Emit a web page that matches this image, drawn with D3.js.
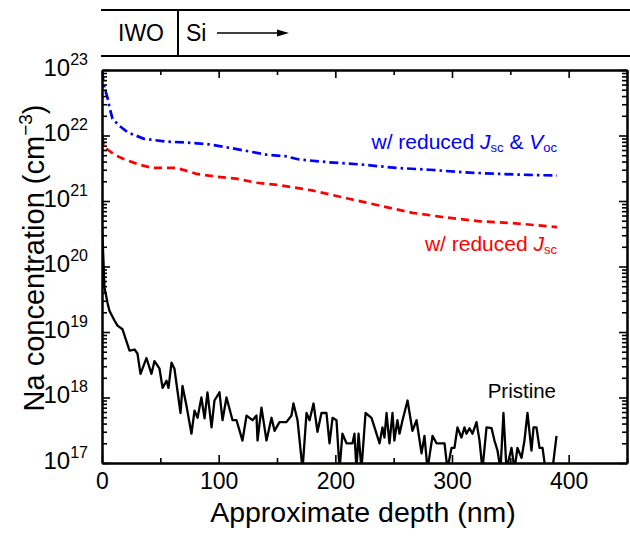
<!DOCTYPE html>
<html>
<head>
<meta charset="utf-8">
<script src="https://cdn.jsdelivr.net/npm/d3@7"></script>
<style>
  body { margin: 0; background: #fff; }
  svg { display: block; font-family: "Liberation Sans", Arial, Helvetica, sans-serif; }
</style>
</head>
<body>
<svg id="chart" width="630" height="538"></svg>
<script>
// Axis ticks
const xMajorTicks = [0, 100, 200, 300, 400];
const xMinorTicks = [50, 150, 250, 350, 450];
const yDecades = [17, 18, 19, 20, 21, 22, 23];

// Na depth profiles (depth in nm, concentration in cm^-3)
const depthVoc = [0, 2, 4.7, 6.4, 9, 15, 22, 36, 54, 72, 90, 107, 122, 141, 158, 169, 195, 223, 252, 281, 309, 338, 366, 390];
const naVoc = [9.3e22, 5.4e22, 3.8e22, 2.7e22, 1.8e22, 1.4e22, 1.12e22, 8.9e21, 8.1e21, 7.8e21, 7.4e21, 6.6e21, 5.9e21, 5.1e21, 4.8e21, 4.3e21, 3.9e21, 3.6e21, 3.2e21, 3.0e21, 2.75e21, 2.6e21, 2.5e21, 2.45e21];

const depthJsc = [0, 2, 6.4, 12.4, 21, 32, 43, 55, 64, 81, 98, 115, 132, 152, 180, 210, 238, 266, 295, 324, 352, 390];
const naJsc = [9.5e21, 6.6e21, 5.8e21, 4.9e21, 4.2e21, 3.6e21, 3.2e21, 3.2e21, 3.2e21, 2.6e21, 2.35e21, 2.2e21, 1.9e21, 1.75e21, 1.45e21, 1.1e21, 8.5e20, 6.6e20, 5.6e20, 4.9e20, 4.6e20, 4.0e20];

const depthPristine = [0, 1.2, 2.1, 4.7, 6.4, 10.7, 13.3, 17.6, 23.6, 27.9, 30.4, 33, 38.1, 42.4, 45, 49.3, 51.9, 55.3, 57, 59.6, 62.1, 67.3, 69, 72.4, 76.7, 79.3, 81.9, 85.2, 87.9, 90.4, 93.9, 96.4, 100.7, 103.3, 106.7, 111.9, 115.3, 120.4, 123.9, 129, 132.4, 133.3, 136.7, 141, 145.3, 147.9, 152.1, 158.1, 162.4, 164.1, 167.6, 171.9, 175.3, 177.9, 181.3, 184.7, 188.1, 192.4, 195, 197.6, 201, 203.6, 206.1, 209.6, 214.7, 216.4, 218.1, 219.9, 222.4, 225.9, 231, 233.6, 237.9, 240.4, 242.1, 243.9, 246.4, 249, 250.6, 253.2, 255, 257.6, 261.9, 266.1, 269.6, 273.9, 276.4, 279, 283.3, 286.7, 293.6, 296.1, 299.6, 302.1, 304.7, 308.1, 310.7, 312.4, 315, 317.6, 321, 323.6, 326.1, 329.6, 333.9, 336.4, 339, 341.6, 344.1, 346.7, 351, 353.6, 356.1, 359.6, 362.1, 364.7, 368.1, 369.9, 372.4, 375, 377.6, 380.1, 386.1, 389.6];
const naPristine = [4.0e20, 1.3e20, 4.8e19, 2.8e19, 2.1e19, 1.5e19, 1.25e19, 1.1e19, 5.2e18, 5.4e18, 4.7e18, 2.3e18, 4.0e18, 2.3e18, 3.6e18, 2.75e18, 1.4e18, 1.8e18, 1.4e18, 3.4e18, 2.75e18, 5.8e17, 1.5e18, 7.5e17, 2.8e17, 6.3e17, 4.9e17, 1.0e18, 4.8e17, 1.2e18, 3.5e17, 9e17, 1.2e18, 4.5e17, 1.0e18, 4.5e17, 4.5e17, 2.2e17, 5.3e17, 4.5e17, 5.3e17, 2.2e17, 7.0e17, 2.2e17, 4.9e17, 3.1e17, 4.2e17, 4.2e17, 5.3e17, 8.1e17, 4.5e17, 8e16, 5.8e17, 4.5e17, 8.1e17, 3.0e17, 5.8e17, 5.8e17, 2.0e17, 4.9e17, 4.5e17, 8e16, 2.8e17, 2.0e17, 2.0e17, 2.8e17, 8e16, 2.8e17, 8e16, 5.8e17, 4.9e17, 3.5e17, 2.0e17, 3.5e17, 2.45e17, 5.8e17, 2.0e17, 5.8e17, 2.2e17, 4.5e17, 2.8e17, 4.5e17, 9e17, 3.1e17, 4.5e17, 1.4e17, 2.6e17, 8e16, 2.6e17, 2.0e17, 2.0e17, 8e16, 1.7e17, 1.7e17, 3.5e17, 2.45e17, 3.5e17, 2.8e17, 3.4e17, 2.8e17, 4.2e17, 2.2e17, 8e16, 3.5e17, 3.4e17, 2.2e17, 1.55e17, 8e16, 5.8e17, 8e16, 1.7e17, 8e16, 1.7e17, 1.2e17, 2.2e17, 5.8e17, 1.55e17, 3.5e17, 3.5e17, 1.7e17, 1.7e17, 8e16, 8e16, 2.6e17];

const svg = d3.select("#chart");
const plot = { left: 102, right: 627, top: 70, bottom: 463 };

const x = d3.scaleLinear().domain([0, 450]).range([plot.left, plot.right]);
const y = d3.scaleLog().domain([1e17, 1e23]).range([plot.bottom, plot.top]);

// Layer band above the plot: IWO | Si →
const band = svg.append("g");
band.append("line").attr("x1", 101).attr("x2", 630).attr("y1", 10).attr("y2", 10)
  .attr("stroke", "#000").attr("stroke-width", 2);
band.append("line").attr("x1", 101).attr("x2", 630).attr("y1", 56).attr("y2", 56)
  .attr("stroke", "#000").attr("stroke-width", 2);
band.append("line").attr("x1", 178).attr("x2", 178).attr("y1", 10).attr("y2", 56)
  .attr("stroke", "#000").attr("stroke-width", 2);
band.append("text").attr("x", 141).attr("y", 41).attr("text-anchor", "middle")
  .attr("font-size", 23).text("IWO");
band.append("text").attr("x", 186).attr("y", 41).attr("font-size", 23).text("Si");
band.append("line").attr("x1", 217).attr("x2", 280).attr("y1", 33).attr("y2", 33)
  .attr("stroke", "#000").attr("stroke-width", 1.3);
band.append("path").attr("d", "M289,33 L277,29.5 L277,36.5 Z").attr("fill", "#000");

// Clip for the data lines
svg.append("clipPath").attr("id", "plotClip").append("rect")
  .attr("x", plot.left).attr("y", plot.top)
  .attr("width", plot.right - plot.left).attr("height", plot.bottom - plot.top);

const lineGen = d3.line().x(d => x(d[0])).y(d => y(d[1]));
const dataG = svg.append("g").attr("clip-path", "url(#plotClip)");

dataG.append("path").datum(d3.zip(depthPristine, naPristine))
  .attr("d", lineGen).attr("fill", "none").attr("stroke", "#000")
  .attr("stroke-width", 2.3).attr("stroke-linejoin", "round");
dataG.append("path").datum(d3.zip(depthJsc, naJsc))
  .attr("d", lineGen).attr("fill", "none").attr("stroke", "#ff0000")
  .attr("stroke-width", 2.7).attr("stroke-dasharray", "8,5");
dataG.append("path").datum(d3.zip(depthVoc, naVoc))
  .attr("d", lineGen).attr("fill", "none").attr("stroke", "#0000ff")
  .attr("stroke-width", 2.7).attr("stroke-dasharray", "9,4,2.5,4");

// Minor ticks for the log axis
const yMinor = [];
yDecades.slice(0, -1).forEach(e => { for (let m = 2; m <= 9; m++) yMinor.push(m * Math.pow(10, e)); });
const yMajor = yDecades.map(e => Math.pow(10, e));

const axesG = svg.append("g");
function styleAxis(g) {
  g.selectAll(".domain").attr("stroke", "#000").attr("stroke-width", 2);
  g.selectAll(".tick line").attr("stroke", "#000").attr("stroke-width", 1.6);
}

// Bottom axis
const bottomMajor = axesG.append("g").attr("transform", `translate(0,${plot.bottom})`)
  .call(d3.axisBottom(x).tickValues(xMajorTicks).tickSizeInner(-8).tickSizeOuter(0).tickPadding(10).tickFormat(d3.format("d")));
bottomMajor.selectAll(".tick text").attr("font-size", 23).attr("fill", "#000")
  .attr("font-family", "'Liberation Sans', Arial, sans-serif");
styleAxis(bottomMajor);
const bottomMinor = axesG.append("g").attr("transform", `translate(0,${plot.bottom})`)
  .call(d3.axisBottom(x).tickValues(xMinorTicks).tickSizeInner(-5).tickSizeOuter(0).tickFormat(""));
styleAxis(bottomMinor);

// Top axis
const topMajor = axesG.append("g").attr("transform", `translate(0,${plot.top})`)
  .call(d3.axisTop(x).tickValues(xMajorTicks).tickSizeInner(-8).tickSizeOuter(0).tickFormat(""));
styleAxis(topMajor);
const topMinor = axesG.append("g").attr("transform", `translate(0,${plot.top})`)
  .call(d3.axisTop(x).tickValues(xMinorTicks).tickSizeInner(-5).tickSizeOuter(0).tickFormat(""));
styleAxis(topMinor);

// Left axis with 10^n labels
const leftMajor = axesG.append("g").attr("transform", `translate(${plot.left},0)`)
  .call(d3.axisLeft(y).tickValues(yMajor).tickSizeInner(-8).tickSizeOuter(0).tickPadding(14));
styleAxis(leftMajor);
leftMajor.selectAll(".tick text").each(function (d) {
  const t = d3.select(this).text(null).attr("dy", "0.5em").attr("fill", "#000")
    .attr("font-family", "'Liberation Sans', Arial, sans-serif");
  t.append("tspan").attr("font-size", 24).text("10");
  t.append("tspan").attr("font-size", 16).attr("dy", -11).text(Math.round(Math.log10(d)));
});
const leftMinor = axesG.append("g").attr("transform", `translate(${plot.left},0)`)
  .call(d3.axisLeft(y).tickValues(yMinor).tickSizeInner(-5).tickSizeOuter(0).tickFormat(""));
styleAxis(leftMinor);

// Right axis
const rightMajor = axesG.append("g").attr("transform", `translate(${plot.right},0)`)
  .call(d3.axisRight(y).tickValues(yMajor).tickSizeInner(-8).tickSizeOuter(0).tickFormat(""));
styleAxis(rightMajor);
const rightMinor = axesG.append("g").attr("transform", `translate(${plot.right},0)`)
  .call(d3.axisRight(y).tickValues(yMinor).tickSizeInner(-5).tickSizeOuter(0).tickFormat(""));
styleAxis(rightMinor);

// Axis titles
svg.append("text").attr("x", 363).attr("y", 522).attr("text-anchor", "middle")
  .attr("font-size", 28.5).text("Approximate depth (nm)");

const yTitle = svg.append("text").attr("transform", "translate(44,258) rotate(-90)")
  .attr("text-anchor", "middle").attr("font-size", 29);
yTitle.append("tspan").text("Na concentration (cm");
yTitle.append("tspan").attr("font-size", 19).attr("dy", -12).text("\u22123");
yTitle.append("tspan").attr("dy", 12).text(")");

// Curve labels
const vocLabel = svg.append("text").attr("x", 557).attr("y", 149)
  .attr("text-anchor", "end").attr("font-size", 21).attr("fill", "#0000ff");
vocLabel.append("tspan").text("w/ reduced ");
vocLabel.append("tspan").attr("font-style", "italic").text("J");
vocLabel.append("tspan").attr("font-size", 13).attr("dy", 3).text("sc");
vocLabel.append("tspan").attr("dy", -3).text(" & ");
vocLabel.append("tspan").attr("font-style", "italic").text("V");
vocLabel.append("tspan").attr("font-size", 13).attr("dy", 3).text("oc");

const jscLabel = svg.append("text").attr("x", 557).attr("y", 251)
  .attr("text-anchor", "end").attr("font-size", 21).attr("fill", "#ff0000");
jscLabel.append("tspan").text("w/ reduced ");
jscLabel.append("tspan").attr("font-style", "italic").text("J");
jscLabel.append("tspan").attr("font-size", 13).attr("dy", 3).text("sc");

svg.append("text").attr("x", 556).attr("y", 398).attr("text-anchor", "end")
  .attr("font-size", 20.5).attr("fill", "#000").text("Pristine");
</script>
</body>
</html>
